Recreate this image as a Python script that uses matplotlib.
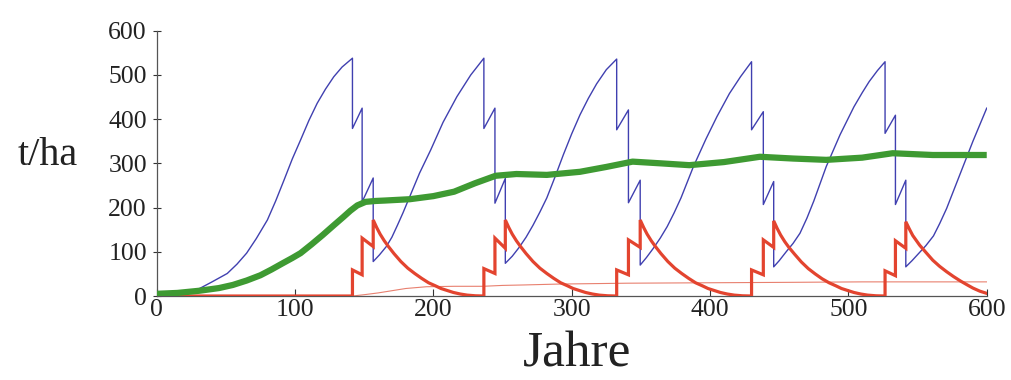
import matplotlib
matplotlib.use("Agg")
import matplotlib.pyplot as plt

# ---------------- data ----------------
# Standing biomass (blue): vertical drops are repeated times
blue_t = [0, 10, 20, 31, 40, 51, 58, 65, 72, 80, 86, 92, 98, 104, 110, 116, 122, 128, 134, 141.5,
          141.5, 148.5, 148.5, 156.5, 156.5,
          161, 166, 170, 174, 178, 182, 190, 198, 207, 217, 227, 232, 236.5,
          236.5, 244.5, 244.5, 252, 252,
          257, 262, 267, 272, 277, 282, 288, 294, 300, 306, 312, 318, 325, 332.5,
          332.5, 341, 341, 349.5, 349.5,
          354, 359, 364, 369, 374, 379, 388, 397, 405, 414, 422, 430,
          430, 438.5, 438.5, 446, 446,
          450, 455, 460, 465, 470, 475, 484, 494, 504, 510, 515, 521, 526.5,
          526.5, 534, 534, 541.5, 541.5,
          546, 551, 556, 561.5, 566, 571, 576, 581, 590, 600]
blue_v = [1, 3, 8, 17, 32, 51, 72, 97, 130, 172, 215, 262, 310, 353, 397, 436, 468, 496, 518, 538,
          379, 425, 213, 267, 78,
          93, 112, 133, 160, 188, 218, 278, 330, 393, 451, 500, 520, 538,
          379, 425, 210, 266, 74,
          90, 110, 133, 160, 190, 222, 270, 320, 367, 410, 447, 480, 512, 536,
          376, 421, 211, 262, 70,
          87, 108, 131, 157, 188, 222, 293, 355, 406, 458, 496, 530,
          376, 417, 207, 259, 66,
          80, 100, 119, 142, 176, 215, 293, 365, 428, 460, 485, 510, 530,
          368, 409, 207, 262, 66,
          80, 97, 114, 136, 164, 198, 238, 278, 350, 425]

# Dead wood (thick red)
red_t = [0, 141.5, 141.5, 148.5, 148.5, 156.5, 156.5,
         159, 161.5, 164.5, 167.5, 171.5, 176.5, 181.5, 186.5, 191.5, 196.5, 201.5, 205.5,
         210.5, 214.5, 219.5, 224.5, 230.5, 236.5,
         236.5, 244.5, 244.5, 252, 252,
         254.5, 257, 260, 263, 267, 272, 277, 282, 287, 292, 297, 301, 306, 310, 315, 320, 326, 332.5,
         332.5, 341, 341, 349.5, 349.5,
         352, 354.5, 357.5, 360.5, 364.5, 369.5, 374.5, 379.5, 384.5, 389.5, 394.5, 398.5,
         403.5, 407.5, 412.5, 417.5, 423.5, 430,
         430, 438.5, 438.5, 446, 446,
         448.5, 451, 454, 457, 461, 466, 471, 476, 481, 486, 491, 495, 500, 504, 509, 514, 520, 526.5,
         526.5, 534, 534, 541.5, 541.5,
         544, 546.5, 551.5, 556.5, 561, 566, 571, 576, 581, 586, 590, 595, 600]
red_v = [0, 0, 59, 48, 131, 112, 172,
         155, 140, 125, 112, 96, 78, 63, 51, 40, 30, 23, 17,
         12, 8, 4.5, 2, 0.5, 0,
         62, 51, 131, 108, 172,
         155, 140, 125, 112, 96, 78, 63, 51, 40, 30, 23, 17, 12, 8, 4.5, 2, 0.5, 0,
         59, 48, 127, 110, 172,
         155, 140, 125, 112, 96, 78, 63, 51, 40, 30, 23, 17, 12, 8, 4.5, 2, 0.5, 0,
         59, 48, 127, 110, 170,
         153, 138, 123, 110, 95, 77, 62, 50, 39, 30, 23, 17, 12, 8, 4.5, 2, 0.5, 0,
         57, 46, 125, 108, 168,
         152, 137, 115, 97, 81, 67, 55, 44, 34, 25, 18, 11, 6]

# Mean dead wood (thin red)
red_mean_t = [0, 141.5, 150, 160, 170, 180, 195, 215, 236, 250, 265, 290, 340, 400, 460, 510, 600]
red_mean_v = [0, 0, 3, 7, 12, 17, 21, 22, 22, 24, 25, 27, 29, 30, 31, 32, 32]

# Mean biomass (thick green)
green_t = [0, 15, 31, 45, 55, 65, 75, 83, 91, 98, 104, 112, 120, 128, 135, 140, 145, 151, 158, 165,
           183, 200, 215, 230, 245, 260, 282, 306, 325, 344, 365, 385, 410, 436, 460, 484, 510,
           532, 561, 600]
green_v = [5, 7, 12, 18, 25, 35, 47, 60, 74, 86, 97, 117, 138, 160, 179, 193, 205, 213, 215, 216,
           219, 226, 236, 255, 272, 276, 274, 281, 292, 304, 300, 296, 303, 315, 311, 308, 313,
           323, 319, 319]

x_ticks = [0, 100, 200, 300, 400, 500, 600]
y_ticks = [0, 100, 200, 300, 400, 500, 600]
x_label = "Jahre"
y_label = "t/ha"

# ---------------- figure ----------------
plt.rcParams['font.family'] = ['Liberation Serif', 'DejaVu Serif']
fig = plt.figure(figsize=(10.11, 3.80), dpi=100)
ax = fig.add_axes([0.155, 0.221, 0.821, 0.698])

ax.plot(red_mean_t, red_mean_v, color='#e8806f', lw=0.8, zorder=2)
ax.plot(blue_t, blue_v, color='#4040b0', lw=1.0, zorder=3)
ax.plot(red_t, red_v, color='#e3442f', lw=2.3, zorder=4, solid_joinstyle='miter')
ax.plot(green_t, green_v, color='#3e9a32', lw=4.5, zorder=5, solid_capstyle='butt')

ax.set_xlim(0, 600)
ax.set_ylim(0, 600)
ax.set_xticks(x_ticks)
ax.set_yticks(y_ticks)
ax.tick_params(axis='both', labelsize=18.5, colors='#333333', labelcolor='#222222')
ax.tick_params(axis='x', direction='in', length=5, width=0.8, pad=2)
ax.tick_params(axis='y', direction='inout', length=6, width=0.8, pad=4)

for s in ['top', 'right']:
    ax.spines[s].set_visible(False)
for s in ['left', 'bottom']:
    ax.spines[s].set_color('#555555')
    ax.spines[s].set_linewidth(0.9)

fig.text(0.047, 0.59, y_label, fontsize=29, ha='center', va='center', color='#222222')
fig.text(0.571, 0.068, x_label, fontsize=37, ha='center', va='center', color='#222222')

fig.savefig('out.png', dpi=100)
